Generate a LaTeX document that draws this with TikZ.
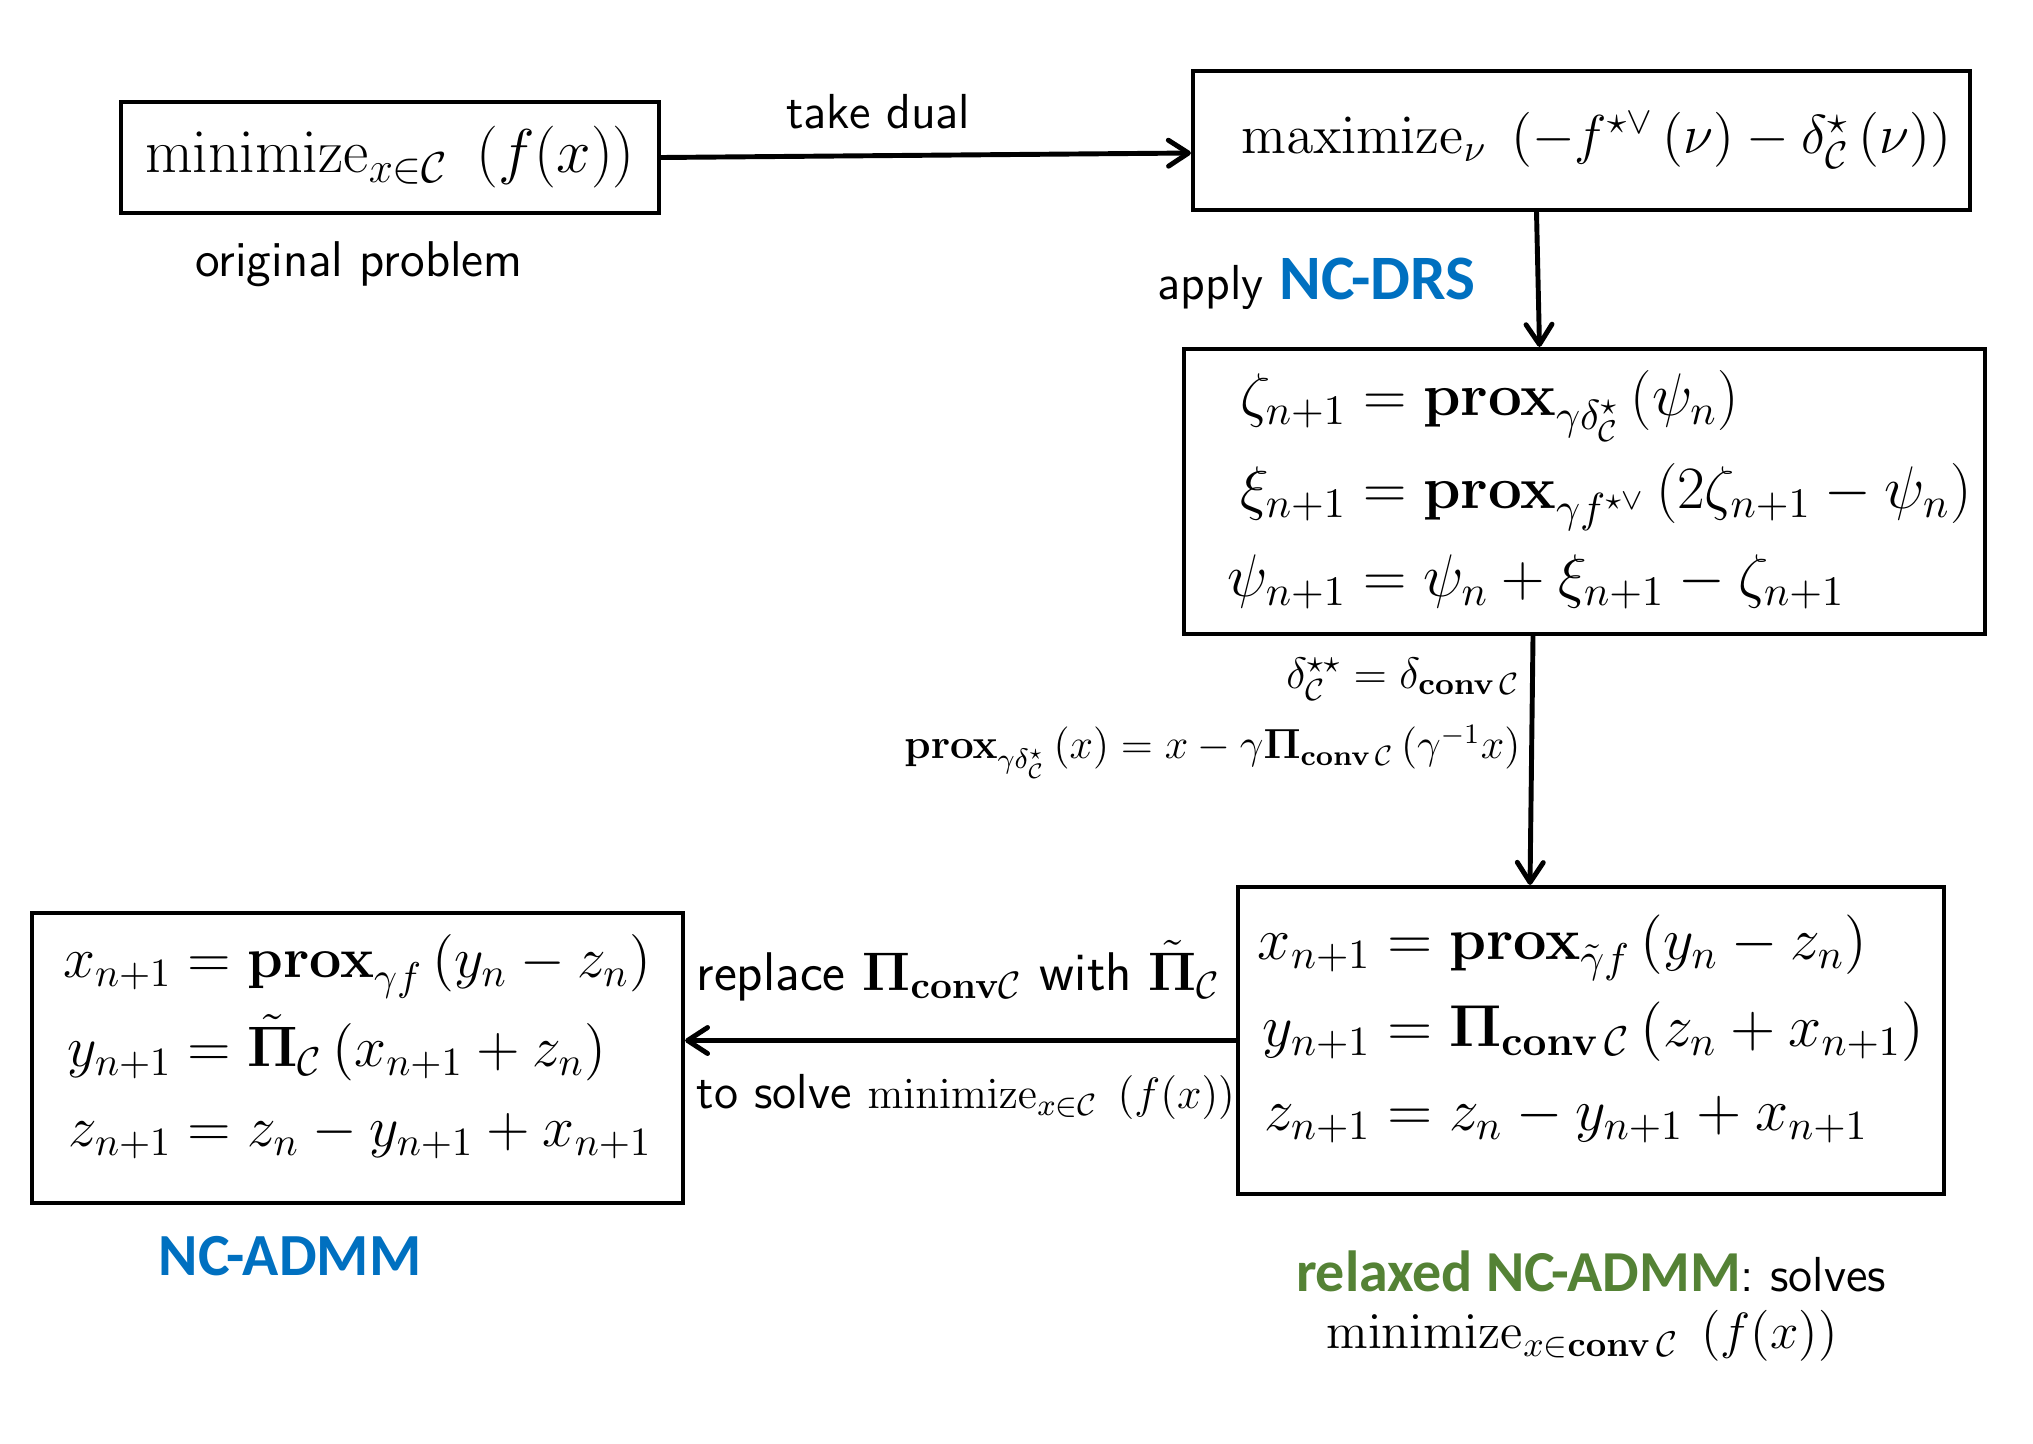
\RequirePackage{fix-cm}
\documentclass[tikz,border=0pt]{standalone}
\usepackage{amsmath}
\usepackage{amssymb}
\usepackage[no-math]{fontspec}
\newfontfamily\calibri{Carlito}
\usetikzlibrary{arrows.meta,positioning}
\definecolor{ncblue}{RGB}{0,112,192}
\definecolor{ncgreen}{RGB}{84,130,53}
\newcommand{\prox}{\mathbf{prox}}
\newcommand{\cC}{\mathcal{C}}
\newcommand{\convC}{\mathbf{conv}\,\mathcal{C}}
\newcommand{\hl}[3][16.5]{\textcolor{#2}{\calibri\bfseries\fontsize{#1}{20}\selectfont #3}}
\setlength{\jot}{3.5pt}

\begin{document}
\begin{tikzpicture}[
    >={Straight Barb[length=2mm, width=2.6mm, round]},
    box/.style={draw, line width=1.2pt, inner sep=0pt, align=center},
    eqs/.style={inner sep=0pt},
    arrow/.style={->, line width=1.4pt},
    lbl/.style={font=\sffamily\fontsize{14}{17}\selectfont, inner sep=0pt},
    note/.style={font=\fontsize{12.5}{15}\selectfont, inner sep=0pt},
  ]
  \useasboundingbox (0,0) rectangle (20.33,-14.43);

  % ── Row 0: original problem and its dual ──
  \node[box, minimum width=5.38cm, minimum height=1.11cm,
        font=\fontsize{17.6}{21.1}\selectfont] at (3.90,-1.575) (orig)
    {$\mathrm{minimize}_{x\in\cC}\;\left(f(x)\right)$};
  \node[box, minimum width=7.77cm, minimum height=1.39cm,
        font=\fontsize{15.6}{18.7}\selectfont] at (15.815,-1.405) (dual)
    {\hspace*{0.3cm}$\mathrm{maximize}_{\nu}\;\left(-f^{\star\vee}\left(\nu\right)
      -\delta_{\cC}^{\star}\left(\nu\right)\right)$};

  \node[lbl, font=\sffamily\fontsize{14.3}{17}\selectfont] at (3.59,-2.64)
    (origlbl) {original problem};

  % ── Row 1: NC-DRS iterations ──
  \node[box, minimum width=8.01cm, minimum height=2.85cm,
        font=\fontsize{17.1}{20.5}\selectfont] at (15.845,-4.915) (drs)
    {\hspace*{0.3cm}$\begin{aligned}
      \zeta_{n+1} &= \prox_{\gamma\delta_{\cC}^{\star}}\left(\psi_n\right)\\
      \xi_{n+1} &= \prox_{\gamma f^{\star\vee}}\left(2\zeta_{n+1}-\psi_n\right)\\
      \psi_{n+1} &= \psi_n+\xi_{n+1}-\zeta_{n+1}
    \end{aligned}$};

  % ── Row 2: relaxed NC-ADMM and NC-ADMM (frame, then equations) ──
  \node[box, minimum width=7.06cm, minimum height=3.07cm] at (15.91,-10.405)
    (relaxed) {};
  \node[eqs, font=\fontsize{16.9}{20.3}\selectfont]
    at ([yshift=0.1cm]relaxed.center) (relaxedeqs)
    {$\begin{aligned}
      x_{n+1} &= \prox_{\tilde{\gamma}f}\left(y_n-z_n\right)\\
      y_{n+1} &= \mathbf{\Pi}_{\convC}\left(z_n+x_{n+1}\right)\\
      z_{n+1} &= z_n-y_{n+1}+x_{n+1}
    \end{aligned}$};
  \node[box, minimum width=6.51cm, minimum height=2.90cm] at (3.575,-10.58)
    (admm) {};
  \node[eqs, font=\fontsize{16.3}{19.2}\selectfont]
    at ([yshift=0.095cm]admm.center) (admmeqs)
    {$\begin{aligned}
      x_{n+1} &= \prox_{\gamma f}\left(y_n-z_n\right)\\
      y_{n+1} &= \tilde{\mathbf{\Pi}}_{\cC}\left(x_{n+1}+z_n\right)\\
      z_{n+1} &= z_n-y_{n+1}+x_{n+1}
    \end{aligned}$};

  \node[lbl] at (2.90,-12.56) (admmlbl) {\hl[17]{ncblue}{NC-ADMM}};
  \node[lbl] at (15.91,-12.71) (relaxedlbl)
    {\hl{ncgreen}{relaxed NC-ADMM}: solves};
  \node[eqs, font=\fontsize{14.5}{17.4}\selectfont] at (15.82,-13.36)
    (relaxedprob) {$\mathrm{minimize}_{x\in\convC}\;\left(f(x)\right)$};

  % ── Arrows ──
  \draw[arrow] (orig.east) -- node[lbl, pos=0.41, above=0.24cm] {take dual}
    ([yshift=-0.125cm]dual.west);

  \draw[arrow] ([xshift=-0.45cm]dual.south) -- ([xshift=-0.45cm]drs.north);
  \node[lbl, anchor=east] at (14.76,-2.84) (drslbl)
    {apply \hl[18]{ncblue}{NC-DRS}};

  \draw[arrow] ([xshift=-0.515cm]drs.south) -- ([xshift=-0.61cm]relaxed.north);
  \node[note, anchor=east] at (15.21,-6.79) (conjlbl)
    {$\delta_{\cC}^{\star\star}=\delta_{\convC}$};
  \node[note, font=\fontsize{12}{14.4}\selectfont, anchor=east]
    at (15.21,-7.52) (proxlbl)
    {$\prox_{\gamma\delta_{\cC}^{\star}}\left(x\right)
      =x-\gamma\mathbf{\Pi}_{\convC}\left(\gamma^{-1}x\right)$};

  \draw[arrow] (relaxed.west) -- (admm.east |- relaxed.west);
  \node[lbl, font=\sffamily\fontsize{15.5}{18.6}\selectfont, anchor=west]
    at (6.96,-9.71) (replacelbl)
    {replace $\mathbf{\Pi}_{\mathbf{conv}\cC}$ with $\tilde{\mathbf{\Pi}}_{\cC}$};
  \node[lbl, anchor=west] at (6.96,-10.97) (solvelbl)
    {to solve {\fontsize{12.5}{15}\selectfont
      $\mathrm{minimize}_{x\in\cC}\;\left(f(x)\right)$}};

\end{tikzpicture}
\end{document}
